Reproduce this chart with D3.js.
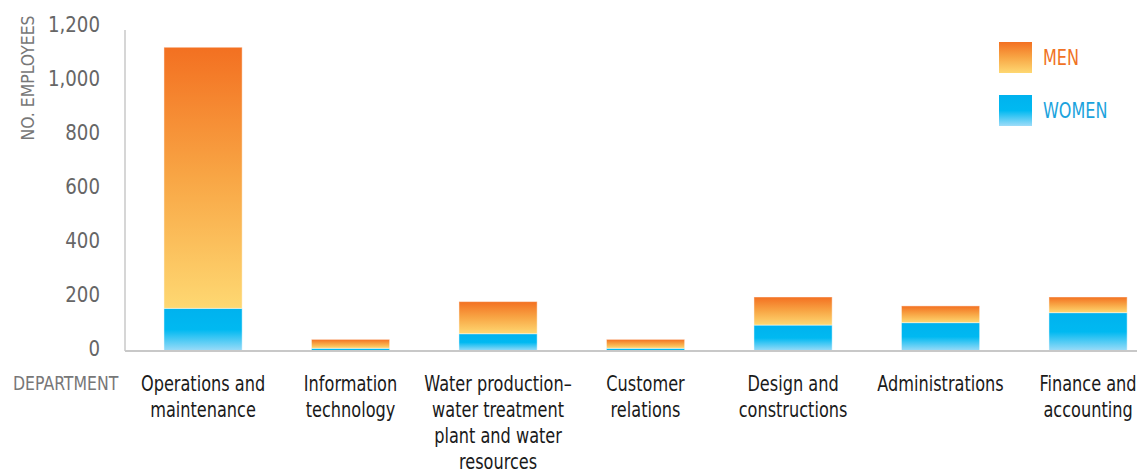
<!DOCTYPE html>
<html>
<head>
<meta charset="utf-8">
<script src="https://cdn.jsdelivr.net/npm/d3@7"></script>
<style>
  html, body { margin: 0; padding: 0; background: #fff; }
  svg { display: block; }
  text { font-family: "Liberation Sans Narrow", "Arial Narrow", "DejaVu Sans Condensed", sans-serif; }
</style>
</head>
<body>
<svg id="chart" width="1137" height="470"></svg>
<script>
const categories = [
  "Operations and\nmaintenance",
  "Information\ntechnology",
  "Water production\u2013\nwater treatment\nplant and water\nresources",
  "Customer\nrelations",
  "Design and\nconstructions",
  "Administrations",
  "Finance and\naccounting"
];
const women = [158, 10, 64, 10, 96, 105, 142];
const men = [967, 33, 119, 33, 104, 62, 58];
const yTicks = [0, 200, 400, 600, 800, 1000, 1200];
const seriesNames = ["MEN", "WOMEN"];

const svg = d3.select("#chart");
const defs = svg.append("defs");

// horizontal squeeze about a given x (emulates a condensed typeface)
function squeeze(sel, cx, sx) {
  sel.attr("transform", `translate(${cx},0) scale(${sx},1) translate(${-cx},0)`);
}

const gMen = defs.append("linearGradient").attr("id", "gradMen")
  .attr("x1", 0).attr("y1", 0).attr("x2", 0).attr("y2", 1);
gMen.append("stop").attr("offset", "0%").attr("stop-color", "#F37021");
gMen.append("stop").attr("offset", "50%").attr("stop-color", "#F8A645");
gMen.append("stop").attr("offset", "100%").attr("stop-color", "#FED872");

const gWomen = defs.append("linearGradient").attr("id", "gradWomen")
  .attr("x1", 0).attr("y1", 0).attr("x2", 0).attr("y2", 1);
gWomen.append("stop").attr("offset", "0%").attr("stop-color", "#00B2EE");
gWomen.append("stop").attr("offset", "50%").attr("stop-color", "#00B9F1");
gWomen.append("stop").attr("offset", "100%").attr("stop-color", "#9EDCF8");

const x = d3.scaleBand()
  .domain(categories)
  .range([129.3, 1161.8])
  .paddingInner(0.47)
  .paddingOuter(0.235);

const y = d3.scaleLinear().domain([0, 1200]).range([351, 27]);

// y axis line
svg.append("line").attr("x1", 125).attr("x2", 125).attr("y1", 30).attr("y2", y(0))
  .attr("stroke", "#c8c8c8").attr("stroke-width", 1.5);

// y axis labels
const yAxis = d3.axisLeft(y).tickValues(yTicks).tickFormat(d3.format(",")).tickSize(0).tickPadding(25);
const yg = svg.append("g").attr("transform", "translate(125,0)").call(yAxis);
yg.select(".domain").remove();
yg.selectAll("text").attr("fill", "#666").attr("font-size", 22).attr("dy", "0.32em")
  .attr("transform", "translate(-25,-3) scale(0.92,1) translate(25,0)");

// bars
const data = categories.map((c, i) => ({ c, w: women[i], m: men[i] }));
const bars = svg.append("g");
bars.selectAll("rect.w").data(data).join("rect").attr("class", "w")
  .attr("x", d => x(d.c)).attr("width", x.bandwidth())
  .attr("y", d => y(d.w)).attr("height", d => y(0) - y(d.w))
  .attr("fill", "url(#gradWomen)")
  .attr("stroke", "#ffffff").attr("stroke-opacity", 0.45).attr("stroke-width", 1);
bars.selectAll("rect.m").data(data).join("rect").attr("class", "m")
  .attr("x", d => x(d.c)).attr("width", x.bandwidth())
  .attr("y", d => y(d.w + d.m)).attr("height", d => y(d.w) - y(d.w + d.m))
  .attr("fill", "url(#gradMen)")
  .attr("stroke", "#ffffff").attr("stroke-opacity", 0.45).attr("stroke-width", 1);

svg.append("line").attr("x1", 125).attr("x2", 1137).attr("y1", y(0)).attr("y2", y(0))
  .attr("stroke", "#c8c8c8").attr("stroke-width", 2);

// x labels
const xl = svg.append("g");
data.forEach(d => {
  const cx = x(d.c) + x.bandwidth() / 2;
  const t = xl.append("text")
    .attr("x", cx)
    .attr("y", 391)
    .attr("text-anchor", "middle")
    .attr("font-size", 21)
    .attr("fill", "#1a1a1a");
  d.c.split("\n").forEach((line, i) => {
    t.append("tspan").attr("x", cx).attr("y", 391 + i * 26).text(line);
  });
  squeeze(t, cx, 0.855);
});

const dep = svg.append("text").attr("x", 13).attr("y", 390).attr("font-size", 19)
  .attr("fill", "#777").text("DEPARTMENT");
squeeze(dep, 13, 0.92);

svg.append("text").attr("transform", "translate(34,78) rotate(-90)")
  .attr("text-anchor", "middle").attr("font-size", 18).attr("fill", "#777")
  .text("NO. EMPLOYEES")
  .attr("textLength", 125).attr("lengthAdjust", "spacingAndGlyphs");

// legend
const legend = svg.append("g");
const legendItems = [
  { name: seriesNames[0], fill: "url(#gradMen)", color: "#F07224", y: 42 },
  { name: seriesNames[1], fill: "url(#gradWomen)", color: "#1BA3DD", y: 95 }
];
legendItems.forEach(li => {
  legend.append("rect").attr("x", 999).attr("y", li.y).attr("width", 33).attr("height", 31)
    .attr("fill", li.fill);
  const t = legend.append("text").attr("x", 1043).attr("y", li.y + 23).attr("font-size", 21)
    .attr("fill", li.color).text(li.name);
  squeeze(t, 1043, 0.85);
});
</script>
</body>
</html>
